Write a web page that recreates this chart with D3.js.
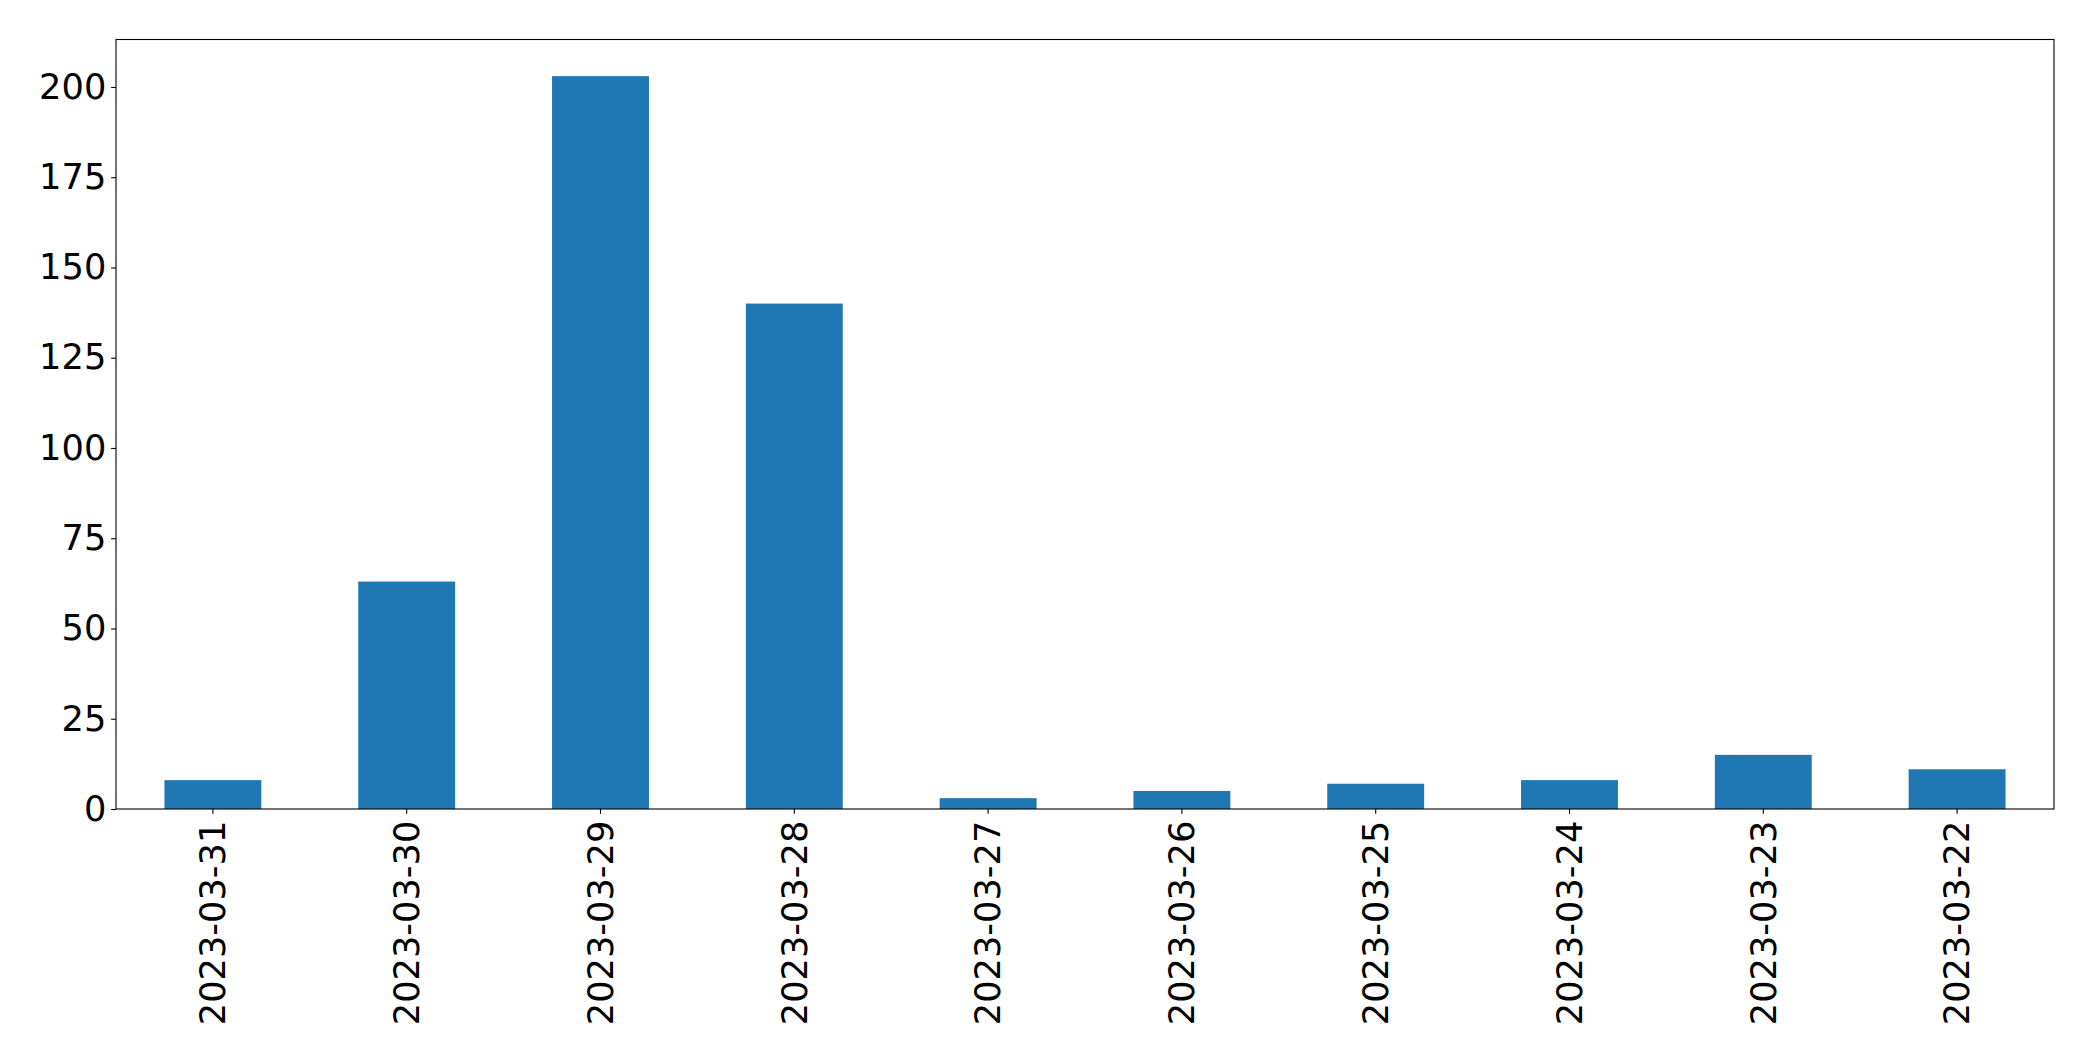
<!DOCTYPE html>
<html>
<head>
<meta charset="utf-8">
<script src="https://cdn.jsdelivr.net/npm/d3@7"></script>
<style>
  html, body { margin: 0; padding: 0; background: #fff; }
  svg { display: block; }
  .tick text { font-family: "DejaVu Sans", sans-serif; font-size: 35.2px; fill: #000; }
</style>
</head>
<body>
<svg id="chart" width="2093" height="1061"></svg>
<script>
const categories = ["2023-03-31","2023-03-30","2023-03-29","2023-03-28","2023-03-27","2023-03-26","2023-03-25","2023-03-24","2023-03-23","2023-03-22"];
const values = [8, 63, 203, 140, 3, 5, 7, 8, 15, 11];
const yTicks = [0, 25, 50, 75, 100, 125, 150, 175, 200];

const W = 2093, H = 1061;
const margin = { left: 116, right: W - 2054, top: 39.5, bottom: H - 809 };
const iw = W - margin.left - margin.right;
const ih = H - margin.top - margin.bottom;

const svg = d3.select("#chart");
const g = svg.append("g").attr("transform", `translate(${margin.left},${margin.top})`);

const x = d3.scaleBand().domain(categories).range([0, iw]).paddingInner(0.5).paddingOuter(0.25);
const y = d3.scaleLinear().domain([0, d3.max(values) * 1.05]).range([ih, 0]);

g.selectAll("rect.bar").data(values).enter().append("rect")
  .attr("class", "bar")
  .attr("x", (d, i) => x(categories[i]))
  .attr("width", x.bandwidth())
  .attr("y", d => y(d))
  .attr("height", d => ih - y(d))
  .attr("fill", "#1f77b4");

const tickLen = 4.86, pad = 4.86;

const yAxis = g.append("g").call(d3.axisLeft(y).tickValues(yTicks).tickSize(tickLen).tickPadding(pad).tickFormat(d3.format("d")));
yAxis.select(".domain").remove();
yAxis.selectAll(".tick line").attr("stroke", "#000").attr("stroke-width", 1.1);

const xAxis = g.append("g").attr("transform", `translate(0,${ih})`)
  .call(d3.axisBottom(x).tickSize(tickLen).tickPadding(pad));
xAxis.select(".domain").remove();
xAxis.selectAll(".tick line").attr("stroke", "#000").attr("stroke-width", 1.1);
xAxis.selectAll(".tick text")
  .attr("transform", "rotate(-90)")
  .attr("x", -(tickLen + pad + 2))
  .attr("y", 0)
  .attr("dy", "0.35em")
  .attr("text-anchor", "end");

g.append("rect").attr("x", 0).attr("y", 0).attr("width", iw).attr("height", ih)
  .attr("fill", "none").attr("stroke", "#000").attr("stroke-width", 1.1);
</script>
</body>
</html>
